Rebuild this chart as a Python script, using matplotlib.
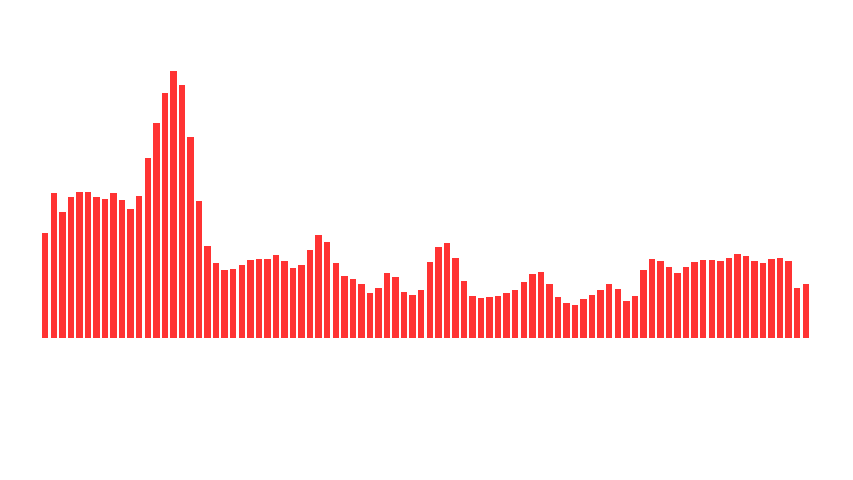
import matplotlib
matplotlib.use('Agg')
import matplotlib.pyplot as plt

# bar heights (arbitrary units)
values = [105, 145, 126, 141, 146, 146, 141, 139, 145, 138,
          129, 142, 180, 215, 245, 267, 253, 201, 137, 92,
          75, 68, 69, 73, 78, 79, 79, 83, 77, 70,
          73, 88, 103, 96, 75, 62, 59, 54, 45, 50,
          65, 61, 46, 43, 48, 76, 91, 95, 80, 57,
          42, 40, 41, 42, 45, 48, 56, 64, 66, 54,
          41, 35, 33, 39, 43, 48, 54, 49, 37, 42,
          68, 79, 77, 71, 65, 71, 76, 78, 78, 77,
          80, 84, 82, 77, 75, 79, 80, 77, 50, 54]
positions = list(range(len(values)))

fig = plt.figure(figsize=(8.54, 4.8), dpi=100)
ax = fig.add_axes([42 / 854, 142 / 480, 767 / 854, 267 / 480])
ax.bar(positions, values, width=0.75, color='#ff3333')
ax.set_xlim(-0.375, len(values) - 1 + 0.375)
ax.set_ylim(0, max(values))
ax.axis('off')

fig.savefig('out.png', dpi=100)
plt.close(fig)
